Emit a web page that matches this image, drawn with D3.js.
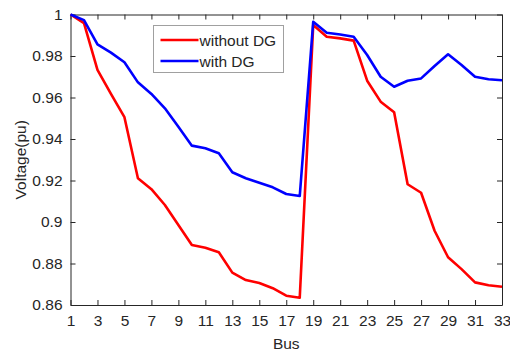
<!DOCTYPE html>
<html>
<head>
<meta charset="utf-8">
<script src="https://cdn.jsdelivr.net/npm/d3@7"></script>
<style>
  body { margin: 0; background: #fff; }
  text { font-family: "Liberation Sans", Arial, sans-serif; fill: #262626; }
</style>
</head>
<body>
<div id="chart"></div>
<script>
// bus numbers 1..33
var buses = [1,2,3,4,5,6,7,8,9,10,11,12,13,14,15,16,17,18,19,20,21,22,23,24,25,26,27,28,29,30,31,32,33]

// voltage profiles
var withoutDG = [1.0, 0.9958, 0.9733, 0.9617, 0.9505, 0.9211, 0.9158, 0.9082, 0.8986, 0.8889,
  0.8876, 0.8854, 0.8756, 0.8720, 0.8706, 0.8681, 0.8645, 0.8635, 0.9949, 0.9893,
  0.9885, 0.9874, 0.9681, 0.9580, 0.9529, 0.9182, 0.9141, 0.8958, 0.8830, 0.8773,
  0.8709, 0.8695, 0.8688]
var withDG = [1.0, 0.9973, 0.9856, 0.9816, 0.9770, 0.9673, 0.9617, 0.9548, 0.9459, 0.9368,
  0.9355, 0.9331, 0.9240, 0.9211, 0.9189, 0.9167, 0.9135, 0.9125, 0.9965, 0.9912,
  0.9904, 0.9893, 0.9805, 0.9700, 0.9652, 0.9681, 0.9692, 0.9752, 0.9808, 0.9757,
  0.9700, 0.9688, 0.9683]

var xTicks = [1,3,5,7,9,11,13,15,17,19,21,23,25,27,29,31,33]
var yTicks = [0.86,0.88,0.9,0.92,0.94,0.96,0.98,1]

var width = 510,
    height = 354
var margin = {left: 70.5, right: 8, top: 14.5, bottom: 49}

var svg = d3.select("#chart")
  .append("svg")
    .attr("width", width)
    .attr("height", height)

var x = d3.scaleLinear().domain([1, 33]).range([margin.left, width - margin.right])
var y = d3.scaleLinear().domain([0.86, 1]).range([height - margin.bottom, margin.top])

var axisColor = "#262626"
var fs = "15.5px"

// axes with inward ticks (matlab style box)
var gx = svg.append("g")
  .attr("transform", "translate(0," + y.range()[0] + ")")
  .call(d3.axisBottom(x).tickValues(xTicks).tickSizeInner(-5).tickSizeOuter(0).tickPadding(10).tickFormat(d3.format("d")))
var gxTop = svg.append("g")
  .attr("transform", "translate(0," + y.range()[1] + ")")
  .call(d3.axisTop(x).tickValues(xTicks).tickSizeInner(-5).tickSizeOuter(0).tickFormat(""))
var gy = svg.append("g")
  .attr("transform", "translate(" + x.range()[0] + ",0)")
  .call(d3.axisLeft(y).tickValues(yTicks).tickSizeInner(-5).tickSizeOuter(0).tickPadding(8).tickFormat(d => d3.format("")(+d.toFixed(2))))
var gyRight = svg.append("g")
  .attr("transform", "translate(" + x.range()[1] + ",0)")
  .call(d3.axisRight(y).tickValues(yTicks).tickSizeInner(-5).tickSizeOuter(0).tickFormat(""))

svg.selectAll(".domain").attr("stroke", axisColor).attr("stroke-width", 1)
svg.selectAll(".tick line").attr("stroke", axisColor).attr("stroke-width", 1)
svg.selectAll(".tick text")
  .style("font-size", fs)
  .style("font-family", "'Liberation Sans', Arial, sans-serif")
  .attr("fill", axisColor)

// lines
var line = d3.line()
  .x((d, i) => x(buses[i]))
  .y(d => y(d))

svg.append("path")
  .datum(withoutDG)
  .attr("d", line)
  .attr("fill", "none")
  .attr("stroke", "#ff0000")
  .attr("stroke-width", 2.6)
  .attr("stroke-linejoin", "round")

svg.append("path")
  .datum(withDG)
  .attr("d", line)
  .attr("fill", "none")
  .attr("stroke", "#0000ff")
  .attr("stroke-width", 2.6)
  .attr("stroke-linejoin", "round")

// axis labels
svg.append("text")
  .attr("x", (x.range()[0] + x.range()[1]) / 2)
  .attr("y", 349)
  .attr("text-anchor", "middle")
  .style("font-size", fs)
  .text("Bus")

svg.append("text")
  .attr("transform", "translate(26," + (y.range()[0] + y.range()[1]) / 2 + ") rotate(-90)")
  .attr("text-anchor", "middle")
  .style("font-size", fs)
  .text("Voltage(pu)")

// legend
var legend = svg.append("g").attr("transform", "translate(153.5,25.5)")
legend.append("rect")
  .attr("width", 130)
  .attr("height", 47)
  .attr("fill", "#fff")
  .attr("stroke", "#a0a0a0")
  .attr("stroke-width", 1)

var legendItems = [{name: "without DG", color: "#ff0000"}, {name: "with DG", color: "#0000ff"}]
legendItems.forEach(function(d, i) {
  var yy = 14.5 + i * 21
  legend.append("line")
    .attr("x1", 7).attr("x2", 45)
    .attr("y1", yy).attr("y2", yy)
    .attr("stroke", d.color)
    .attr("stroke-width", 2.6)
  legend.append("text")
    .attr("x", 46)
    .attr("y", yy + 5.5)
    .style("font-size", fs)
    .text(d.name)
})
</script>
</body>
</html>
